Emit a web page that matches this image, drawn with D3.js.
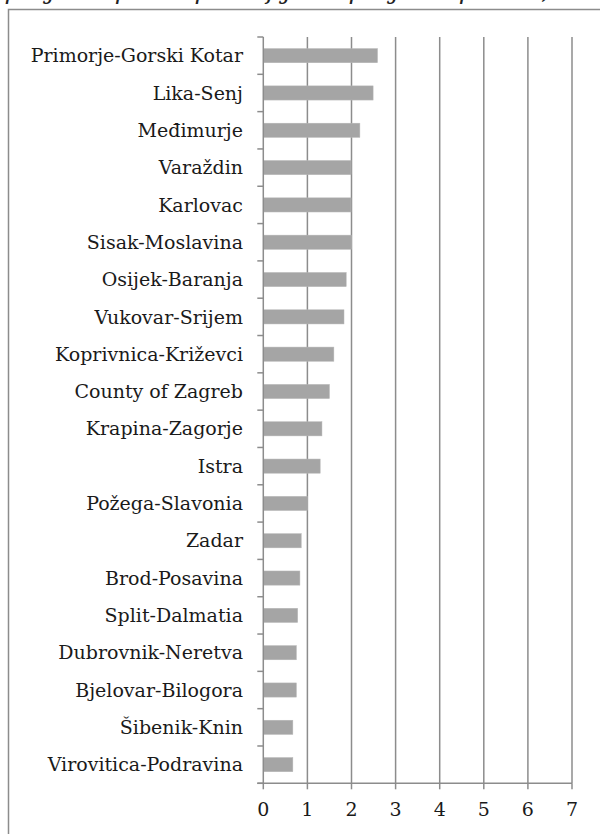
<!DOCTYPE html>
<html><head><meta charset="utf-8">
<script src="https://cdn.jsdelivr.net/npm/d3@7"></script>
<style>
html,body{margin:0;padding:0;background:#fff;overflow:hidden;}
svg{display:block;}
</style></head>
<body>
<script>
const titleText = "Number of projects per capita of joint projects per 10,000 population";
const counties = ["Primorje-Gorski Kotar","Lika-Senj","Međimurje","Varaždin","Karlovac","Sisak-Moslavina","Osijek-Baranja","Vukovar-Srijem","Koprivnica-Križevci","County of Zagreb","Krapina-Zagorje","Istra","Požega-Slavonia","Zadar","Brod-Posavina","Split-Dalmatia","Dubrovnik-Neretva","Bjelovar-Bilogora","Šibenik-Knin","Virovitica-Podravina"];
const values = [2.59,2.49,2.19,1.99,1.99,2.0,1.88,1.83,1.6,1.5,1.33,1.29,1.0,0.86,0.83,0.78,0.75,0.75,0.67,0.67];
const xTicks = [0,1,2,3,4,5,6,7];

const W=600,H=834;
const svg=d3.select("body").append("svg").attr("width",W).attr("height",H);
const serif="'DejaVu Serif', 'Liberation Serif', serif";

// frame
svg.append("rect").attr("x",8.5).attr("y",9.5).attr("width",W+20).attr("height",H+20)
  .attr("fill","none").attr("stroke","#8c8c8c").attr("stroke-width",1.5);

// cut-off title (only its lowest part shows, as in the reference)
svg.append("text").attr("x",300).attr("y",-1.5)
  .attr("text-anchor","middle")
  .attr("font-family",serif).attr("font-style","italic").attr("font-size",25)
  .attr("fill","#222").text(titleText);

const m={left:263.3,right:572,top:37,bottom:783.3};
const x=d3.scaleLinear().domain([0,7]).range([m.left,m.right]);
const y=d3.scaleBand().domain(counties).range([m.top,m.bottom]).padding(0);
const bw=y.bandwidth(), barH=bw*0.38;

// gridlines
svg.append("g").selectAll("line").data(xTicks.slice(1)).join("line")
  .attr("x1",d=>x(d)).attr("x2",d=>x(d)).attr("y1",m.top).attr("y2",m.bottom)
  .attr("stroke","#8c8c8c").attr("stroke-width",1.5);

// bars
svg.append("g").selectAll("rect").data(counties).join("rect")
  .attr("x",x(0)).attr("y",d=>y(d)+(bw-barH)/2)
  .attr("width",(d,i)=>x(values[i])-x(0)).attr("height",barH)
  .attr("fill","#a5a5a5").attr("stroke","#b8b8b8").attr("stroke-width",0.5);

// y axis
const yAxisG=svg.append("g");
yAxisG.append("line").attr("x1",m.left).attr("x2",m.left).attr("y1",m.top).attr("y2",m.bottom)
  .attr("stroke","#8c8c8c").attr("stroke-width",1.5);
const bounds=counties.map(c=>y(c)).concat([m.bottom]);
yAxisG.selectAll("line.tk").data(bounds).join("line").attr("class","tk")
  .attr("x1",m.left-6).attr("x2",m.left).attr("y1",d=>d).attr("y2",d=>d)
  .attr("stroke","#8c8c8c").attr("stroke-width",1.5);
yAxisG.selectAll("text").data(counties).join("text")
  .attr("x",243).attr("y",d=>y(d)+bw/2).attr("dy","0.35em")
  .attr("text-anchor","end").attr("font-family",serif).attr("font-size",19)
  .attr("fill","#1a1a1a").text(d=>d);

// x axis
const xAxisG=svg.append("g");
xAxisG.append("line").attr("x1",m.left-6).attr("x2",m.right).attr("y1",m.bottom).attr("y2",m.bottom)
  .attr("stroke","#8c8c8c").attr("stroke-width",1.5);
xAxisG.selectAll("line.tk").data(xTicks).join("line").attr("class","tk")
  .attr("x1",d=>x(d)).attr("x2",d=>x(d)).attr("y1",m.bottom).attr("y2",m.bottom+6)
  .attr("stroke","#8c8c8c").attr("stroke-width",1.5);
xAxisG.selectAll("text").data(xTicks).join("text")
  .attr("x",d=>x(d)).attr("y",816).attr("text-anchor","middle")
  .attr("font-family",serif).attr("font-size",19).attr("fill","#1a1a1a").text(d=>d);
</script>
</body></html>
